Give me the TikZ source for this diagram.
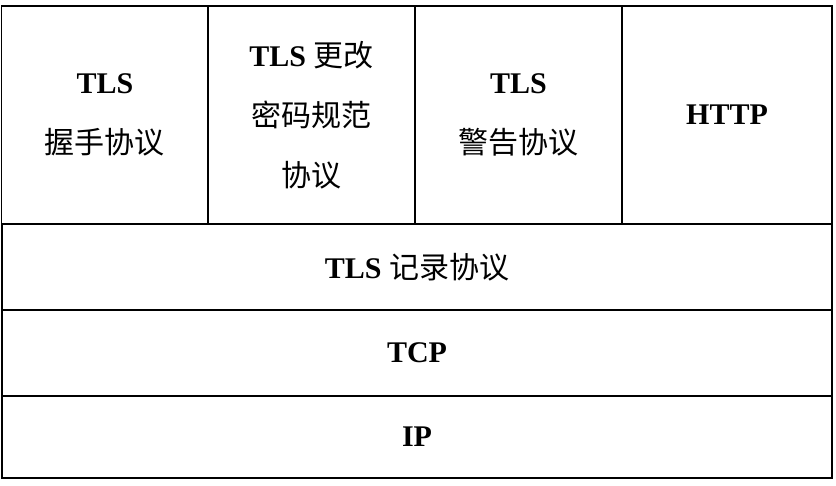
\documentclass[tikz,border=0pt]{standalone}
\usepackage{fontspec}
\setmainfont{Liberation Serif}
\newfontfamily\cjk{Noto Sans CJK SC}
\newcommand{\zh}[1]{{\cjk\mdseries #1}}
\begin{document}
\begin{tikzpicture}[x=1pt,y=-1pt,
  cell/.style={draw=black,line width=1.6pt,fill=white,inner sep=0pt,align=center,
    font=\fontsize{30}{60}\selectfont\bfseries}]
\useasboundingbox (0,0) rectangle (836,485);
\node[cell,minimum width=207pt,minimum height=218pt] (a) at (105,115) {TLS\\\zh{握手协议}};
\node[cell,minimum width=207pt,minimum height=218pt] (b) at (311.5,115) {TLS \zh{更改}\\\zh{密码规范}\\\zh{协议}};
\node[cell,minimum width=207pt,minimum height=218pt] (c) at (518.5,115) {TLS\\\zh{警告协议}};
\node[cell,minimum width=210pt,minimum height=218pt] (d) at (727,115) {HTTP};
\node[cell,minimum width=830pt,minimum height=86pt] (e) at (417,267) {TLS \zh{记录协议}};
\node[cell,minimum width=830pt,minimum height=86pt] (f) at (417,353) {TCP};
\node[cell,minimum width=830pt,minimum height=82pt] (g) at (417,437) {IP};
\end{tikzpicture}
\end{document}
